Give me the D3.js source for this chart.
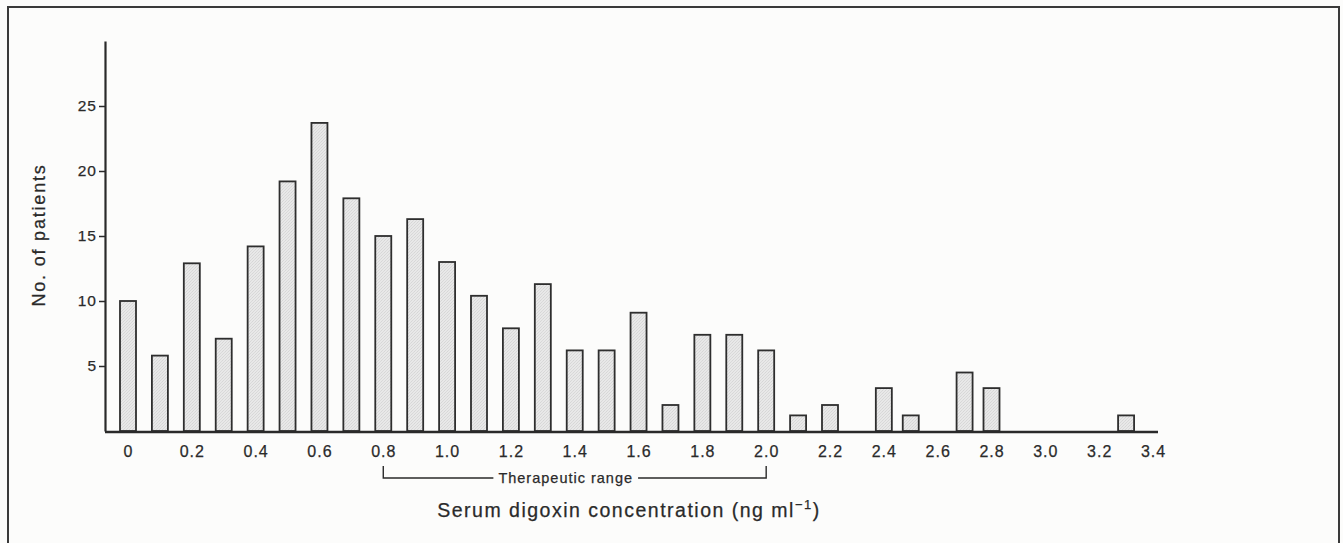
<!DOCTYPE html>
<html>
<head>
<meta charset="utf-8">
<script src="https://cdn.jsdelivr.net/npm/d3@7"></script>
<style>
  body { margin: 0; background: #fcfcfb; }
  text { font-family: "Liberation Sans", Arial, sans-serif; fill: #2a2a2a; stroke: #2a2a2a; stroke-width: 0.25px; }
</style>
</head>
<body>
<div id="chart"></div>
<script>
/* Histogram of serum digoxin concentrations */

// DATA
var concentrations = [0, 0.1, 0.2, 0.3, 0.4, 0.5, 0.6, 0.7, 0.8, 0.9,
  1.0, 1.1, 1.2, 1.3, 1.4, 1.5, 1.6, 1.7, 1.8, 1.9,
  2.0, 2.1, 2.2, 2.3, 2.4, 2.5, 2.6, 2.7, 2.8, 2.9,
  3.0, 3.1, 3.2, 3.3];
var patients = [10, 5.8, 12.9, 7.1, 14.2, 19.2, 23.7, 17.9, 15, 16.3,
  13, 10.4, 7.9, 11.3, 6.2, 6.2, 9.1, 2, 7.4, 7.4,
  6.2, 1.2, 2, 0, 3.3, 1.2, 0, 4.5, 3.3, 0,
  0, 0, 0, 1.2];
var xTicks = [0, 0.2, 0.4, 0.6, 0.8, 1.0, 1.2, 1.4, 1.6, 1.8, 2.0, 2.2, 2.4, 2.6, 2.8, 3.0, 3.2, 3.4];
var yTicks = [5, 10, 15, 20, 25];
var therapeuticRange = [0.8, 2.0];

// SIZES
var width = 1343;
var height = 543;
var axisLeft = 105;
var baseline = 431;
var barWidth = 16;

var svg = d3.select("#chart").append("svg")
  .attr("width", width)
  .attr("height", height);

// light stipple fill for the bars
var pattern = svg.append("defs").append("pattern")
  .attr("id", "stipple")
  .attr("width", 3)
  .attr("height", 3)
  .attr("patternUnits", "userSpaceOnUse");
pattern.append("rect").attr("width", 3).attr("height", 3).attr("fill", "#e8e8e8");
pattern.append("rect").attr("width", 1).attr("height", 1).attr("fill", "#d6d6d6");
pattern.append("rect").attr("x", 2).attr("y", 1).attr("width", 1).attr("height", 1).attr("fill", "#dadada");
pattern.append("rect").attr("x", 1).attr("y", 2).attr("width", 1).attr("height", 1).attr("fill", "#d8d8d8");

// outer frame (runs off the bottom of the page like the scan)
svg.append("rect")
  .attr("x", 8)
  .attr("y", 7)
  .attr("width", 1331)
  .attr("height", 560)
  .attr("fill", "none")
  .attr("stroke", "#3a3a3a")
  .attr("stroke-width", 2);

// SCALES
// the printed axis is squeezed after 2.2, so the scale has a break there
var x = d3.scaleLinear()
  .domain([0, 2.2, 3.4])
  .range([128, 830, 1153]);
var y = d3.scaleLinear()
  .domain([0, 30])
  .range([baseline, 41]);

var bars = concentrations
  .map(function(c, i) { return { "conc": c, "count": patients[i] }; })
  .filter(function(d) { return d.count > 0; });

svg.selectAll("rect.bar")
  .data(bars)
  .enter()
  .append("rect")
  .attr("class", "bar")
  .attr("x", function(d) { return x(d.conc) - barWidth / 2; })
  .attr("y", function(d) { return y(d.count); })
  .attr("width", barWidth)
  .attr("height", function(d) { return y(0) - y(d.count); })
  .attr("fill", "url(#stipple)")
  .attr("stroke", "#2e2e2e")
  .attr("stroke-width", 1.8);

// Y AXIS
var yAxis = svg.append("g")
  .attr("transform", "translate(" + axisLeft + ",0)")
  .call(d3.axisLeft(y).tickValues(yTicks).tickSize(6).tickSizeOuter(0).tickPadding(2));
yAxis.select(".domain").attr("stroke", "#2a2a2a").attr("stroke-width", 2.2);
yAxis.selectAll(".tick line").attr("stroke", "#2a2a2a").attr("stroke-width", 1.5);
yAxis.selectAll(".tick text")
  .style("font-size", "15.5px")
  .style("letter-spacing", "1px")
  .attr("fill", "#2a2a2a");

// X AXIS
svg.append("line")
  .attr("x1", axisLeft)
  .attr("x2", x(3.4) + 5)
  .attr("y1", baseline + 1)
  .attr("y2", baseline + 1)
  .attr("stroke", "#2a2a2a")
  .attr("stroke-width", 2.6);

var xAxis = svg.append("g")
  .attr("transform", "translate(0," + (baseline + 1) + ")")
  .call(d3.axisBottom(x)
    .tickValues(xTicks)
    .tickSize(0)
    .tickPadding(14)
    .tickFormat(function(d) { return d === 0 ? "0" : d3.format(".1f")(d); }));
xAxis.select(".domain").remove();
xAxis.selectAll(".tick text")
  .style("font-size", "16px")
  .style("letter-spacing", "1px")
  .attr("fill", "#2a2a2a");

// THERAPEUTIC RANGE BRACKET
var bx1 = x(therapeuticRange[0]);
var bx2 = x(therapeuticRange[1]);
var by = 478;
var label = svg.append("text")
  .attr("x", (bx1 + bx2) / 2 - 9)
  .attr("y", by + 5)
  .attr("text-anchor", "middle")
  .style("font-size", "14.5px")
  .style("letter-spacing", "1px")
  .text("Therapeutic range");
var lb = label.node().getBBox();
var bracket = svg.append("g")
  .attr("stroke", "#2a2a2a")
  .attr("stroke-width", 1.4)
  .attr("fill", "none");
bracket.append("path")
  .attr("d", "M" + bx1 + "," + (by - 12) + "V" + by + "H" + (lb.x - 5));
bracket.append("path")
  .attr("d", "M" + (lb.x + lb.width + 5) + "," + by + "H" + bx2 + "V" + (by - 12));

// AXIS TITLES
var title = svg.append("text")
  .attr("x", 629)
  .attr("y", 517)
  .attr("text-anchor", "middle")
  .style("font-size", "19.5px")
  .style("letter-spacing", "1.5px");
title.append("tspan").text("Serum digoxin concentration (ng ml");
title.append("tspan")
  .attr("dy", -8)
  .style("font-size", "13px")
  .text("\u22121");
title.append("tspan")
  .attr("dy", 8)
  .text(")");

svg.append("text")
  .attr("transform", "translate(45,235) rotate(-90)")
  .attr("text-anchor", "middle")
  .style("font-size", "18px")
  .style("letter-spacing", "1.8px")
  .text("No. of patients");
</script>
</body>
</html>
